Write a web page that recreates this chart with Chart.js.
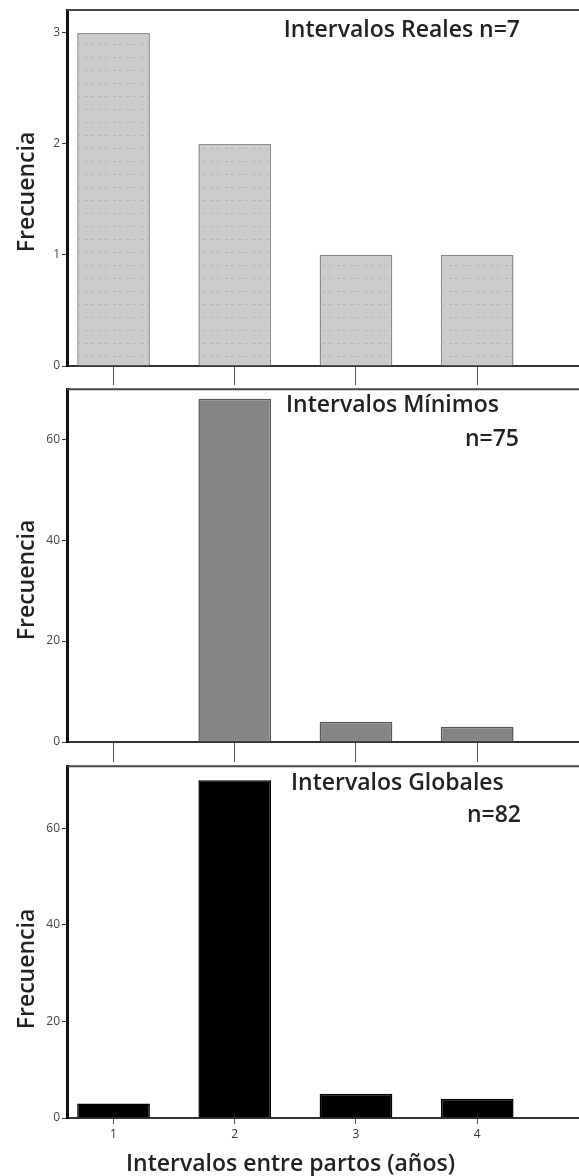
<!DOCTYPE html>
<html>
<head>
<meta charset="utf-8">
<script src="https://cdn.jsdelivr.net/npm/chart.js@4"></script>
<style>
  body { margin: 0; background: #fff; }
  #wrap { position: relative; width: 579px; height: 1176px; overflow: hidden; font-family: "Open Sans", sans-serif; color: #222; }
  canvas { position: absolute; left: 0; }
  .lbl { position: absolute; font-size: 23px; font-weight: 600; white-space: nowrap; line-height: 26px; }
  .ylbl { position: absolute; font-size: 23px; font-weight: 600; white-space: nowrap; line-height: 26px; transform: translate(-50%, -50%) rotate(-90deg); }
</style>
</head>
<body>
<div id="wrap">
  <canvas id="realesChart"></canvas>
  <canvas id="minimosChart"></canvas>
  <canvas id="globalesChart"></canvas>

  <div class="lbl" style="right:59px; top:15px;">Intervalos Reales n=7</div>
  <div class="lbl" style="left:286px; top:390px;">Intervalos Mínimos</div>
  <div class="lbl" style="right:60px; top:424px;">n=75</div>
  <div class="lbl" style="left:291px; top:768px;">Intervalos Globales</div>
  <div class="lbl" style="right:58px; top:800px;">n=82</div>
  <div class="lbl" style="left:126px; top:1149px;">Intervalos entre partos (años)</div>

  <div class="ylbl" style="left:25px; top:192px;">Frecuencia</div>
  <div class="ylbl" style="left:25px; top:580px;">Frecuencia</div>
  <div class="ylbl" style="left:25px; top:969px;">Frecuencia</div>
</div>

<script>
// datos
const intervalos = [1, 2, 3, 4];
const reales = [3, 2, 1, 1];
const minimos = [0, 68, 4, 3];
const globales = [3, 70, 5, 4];
const ticksReales = [0, 1, 2, 3];
const ticksFrec = [0, 20, 40, 60];

// trama punteada de las barras claras
function dotPattern() {
  const c = document.createElement("canvas");
  c.width = 14;
  c.height = 13;
  const g = c.getContext("2d");
  g.fillStyle = "#cbcbcb";
  g.fillRect(0, 0, 14, 13);
  g.fillStyle = "#a9a9a9";
  [1, 3, 7, 9].forEach((x) => g.fillRect(x, 5, 1, 1));
  return g.createPattern(c, "repeat");
}

// marco superior del area
const frame = {
  id: "frame",
  afterDraw(chart) {
    const { ctx, chartArea } = chart;
    ctx.save();
    ctx.strokeStyle = "#444";
    ctx.lineWidth = 2;
    ctx.beginPath();
    ctx.moveTo(chartArea.left, chartArea.top);
    ctx.lineTo(chartArea.right, chartArea.top);
    ctx.stroke();
    ctx.restore();
  },
};

function panel(id, top, height, padTop, values, fill, border, yMax, yTicks, xHeight, last) {
  const cv = document.getElementById(id);
  cv.style.top = top + "px";
  cv.width = 579;
  cv.height = height;
  return new Chart(cv, {
    type: "bar",
    data: {
      datasets: [
        {
          data: intervalos.map((x, i) => ({ x: x, y: values[i] })),
          backgroundColor: fill,
          borderColor: border,
          borderWidth: 1.5,
          borderSkipped: "bottom",
          barPercentage: 1,
          categoryPercentage: 0.6,
        },
      ],
    },
    options: {
      responsive: false,
      animation: false,
      layout: { padding: { top: padTop, right: 0, left: 0, bottom: 0 } },
      plugins: { legend: { display: false }, tooltip: { enabled: false } },
      scales: {
        x: {
          type: "linear",
          offset: false,
          min: 0.616,
          max: 4.84,
          afterBuildTicks: (s) => (s.ticks = intervalos.map((v) => ({ value: v }))),
          afterFit: (s) => (s.height = xHeight),
          grid: {
            offset: false,
            drawOnChartArea: false,
            color: "#555",
            tickLength: last ? 6 : xHeight,
          },
          border: { color: "#333", width: 2 },
          ticks: {
            display: last,
            padding: 3,
            color: "#333",
            font: { family: "Open Sans", size: 12 },
          },
        },
        y: {
          min: 0,
          max: yMax,
          afterBuildTicks: (s) => (s.ticks = yTicks.map((v) => ({ value: v }))),
          afterFit: (s) => (s.width = 67),
          grid: { drawOnChartArea: false, color: "#333", tickLength: 5 },
          border: { color: "#111", width: 3 },
          ticks: {
            padding: 2,
            color: "#444",
            font: { family: "Open Sans", size: 12 },
          },
        },
      },
    },
    plugins: [frame],
  });
}

panel("realesChart", 0, 385, 10, reales, dotPattern(), "#8a8a8a", 3.207, ticksReales, 19, false);
panel("minimosChart", 380, 382, 5, minimos, "#858585", "#555", 69.9, ticksFrec, 20, false);
panel("globalesChart", 757, 419, 5, globales, "#000", "#000", 72.9, ticksFrec, 58, true);
</script>
</body>
</html>
